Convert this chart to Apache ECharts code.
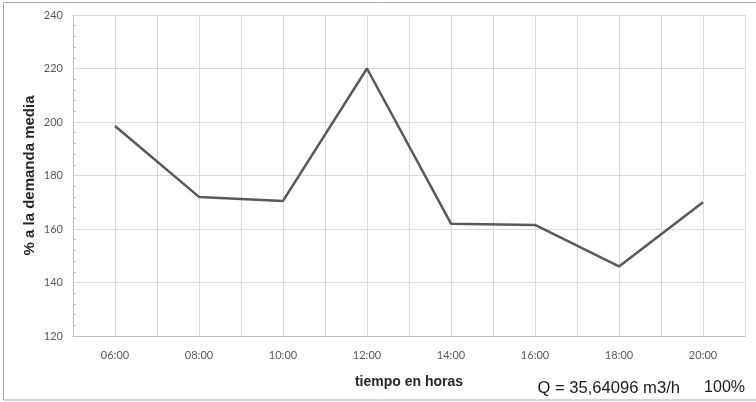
<!DOCTYPE html>
<html>
<head>
<meta charset="utf-8">
<script src="https://cdn.jsdelivr.net/npm/echarts@6/dist/echarts.min.js"></script>
<style>
  html, body { margin: 0; padding: 0; background: #fff; }
  #chart { width: 756px; height: 402px; }
</style>
</head>
<body>
<div id="chart"></div>
<script>
// hours of the day and % of mean demand
const hours = [6, 8, 10, 12, 14, 16, 18, 20]
const demand = [198.5, 172, 170.5, 220, 162, 161.5, 146, 170]
const yTicks = [120, 140, 160, 180, 200, 220, 240]
const flowText = 'Q = 35,64096 m3/h'
const pctText = '100%'

const pad = n => (n < 10 ? '0' : '') + n

const chart = echarts.init(document.getElementById('chart'))

chart.setOption({
  animation: false,
  grid: { left: 73, right: 11, top: 15, bottom: 66 },
  xAxis: {
    type: 'value',
    min: 5,
    max: 21,
    interval: 1,
    name: 'tiempo en horas',
    nameLocation: 'middle',
    nameGap: 39,
    nameTextStyle: { fontFamily: 'Liberation Sans', fontWeight: 'bold', fontSize: 14, color: '#262626' },
    axisLine: { lineStyle: { color: '#bfbfbf', width: 1 } },
    axisTick: { show: false },
    axisLabel: {
      margin: 14,
      fontFamily: 'Lato',
      fontSize: 11,
      color: '#595959',
      formatter: v => (hours.includes(v) ? pad(v) + ':00' : '')
    },
    splitLine: { show: true, lineStyle: { color: '#d9d9d9', width: 1 } }
  },
  yAxis: {
    type: 'value',
    min: yTicks[0],
    max: yTicks[yTicks.length - 1],
    interval: 20,
    name: '% a la demanda media',
    nameLocation: 'middle',
    nameRotate: 90,
    nameGap: 36,
    nameMoveOverlap: false,
    nameTextStyle: { fontFamily: 'Liberation Sans', fontWeight: 'bold', fontSize: 15, color: '#262626' },
    axisLine: { show: true, lineStyle: { color: '#bfbfbf', width: 1 } },
    axisTick: { show: false, inside: true },
    minorTick: { show: true, splitNumber: 5, length: 3, lineStyle: { color: '#bfbfbf' } },
    axisLabel: { margin: 10, fontFamily: 'Lato', fontSize: 11, color: '#595959' },
    splitLine: { show: true, lineStyle: { color: '#d9d9d9', width: 1 } }
  },
  series: [{
    type: 'line',
    data: hours.map((h, i) => [h, demand[i]]),
    showSymbol: false,
    lineStyle: { color: '#595959', width: 2.5 }
  }],
  graphic: [
    {
      type: 'rect',
      shape: { x: 3.5, y: 2.5, width: 760, height: 397.5 },
      style: { fill: null, stroke: '#a6a6a6', lineWidth: 1 },
      silent: true
    },
    {
      type: 'text',
      right: 76,
      top: 380,
      style: { text: flowText, fontFamily: 'Liberation Sans', fontSize: 16.6, fill: '#1a1a1a' }
    },
    {
      type: 'text',
      right: 11,
      top: 380,
      style: { text: pctText, fontFamily: 'Liberation Sans', fontSize: 16, fill: '#1a1a1a' }
    }
  ]
})
</script>
</body>
</html>
